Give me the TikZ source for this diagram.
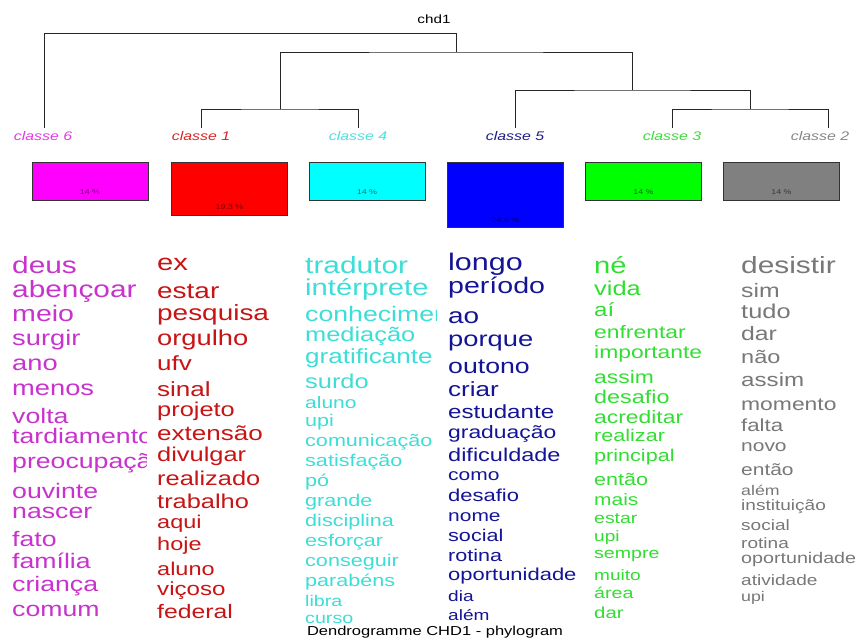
\documentclass[tikz,border=0pt]{standalone}
\usepackage{fontspec}
\setmainfont{Liberation Sans}
\usepackage{graphicx}
\newcommand{\W}[2]{{\fontsize{#1pt}{#1pt}\selectfont\scalebox{1.27}[1]{#2}}}
\definecolor{wmag}{RGB}{200,50,205}
\definecolor{wred}{RGB}{200,20,20}
\definecolor{wcya}{RGB}{60,222,215}
\definecolor{wblu}{RGB}{20,20,150}
\definecolor{wgre}{RGB}{50,222,50}
\definecolor{wgra}{RGB}{120,120,120}
\definecolor{lmag}{RGB}{225,60,225}
\definecolor{lred}{RGB}{215,40,40}
\definecolor{lcya}{RGB}{80,222,222}
\definecolor{lblu}{RGB}{30,30,140}
\definecolor{lgre}{RGB}{60,222,60}
\definecolor{lgra}{RGB}{135,135,135}
\definecolor{bmag}{RGB}{255,0,255}
\definecolor{bred}{RGB}{255,0,0}
\definecolor{bcya}{RGB}{0,255,255}
\definecolor{bblu}{RGB}{0,0,255}
\definecolor{bgre}{RGB}{0,255,0}
\definecolor{bgra}{RGB}{128,128,128}
\begin{document}
\begin{tikzpicture}[x=1pt,y=-1pt,
  tree/.style={line width=0.9pt, black!85},
  word/.style={anchor=mid west, inner sep=0pt, yshift=-6pt},
  cls/.style={inner sep=0pt, font=\itshape},
  box/.style={draw=black!80, line width=0.8pt, minimum width=116pt, inner sep=0pt},
  pct/.style={inner sep=0pt, text=black, text opacity=0.55}]
\fill[white] (0,0) rectangle (860,641);
\useasboundingbox (0,0) rectangle (860,641);
% title
\node[inner sep=0pt] (chd) at (434,19) {\W{12}{chd1}};
% dendrogram
\coordinate (root) at (456,33);
\coordinate (n2) at (456,52);
\coordinate (n14) at (280,109);
\coordinate (n532) at (632,90);
\coordinate (n32) at (750,109);
\coordinate (l6) at (44,128);
\coordinate (l1) at (201,128);
\coordinate (l4) at (358,128);
\coordinate (l5) at (515,128);
\coordinate (l3) at (672,128);
\coordinate (l2) at (828,128);
\draw[tree] (l6) |- (root) -- (n2);
\draw[tree] (n14) |- (n2) -| (n532);
\draw[tree] (l1) |- (n14) -| (l4);
\draw[tree] (l5) |- (n532) -| (n32);
\draw[tree] (l3) |- (n32) -| (l2);
% class labels
\node[cls, text=lmag] (c6) at (43,136) {\W{12.5}{classe 6}};
\node[cls, text=lred] (c1) at (201,136) {\W{12.5}{classe 1}};
\node[cls, text=lcya] (c4) at (358,136) {\W{12.5}{classe 4}};
\node[cls, text=lblu] (c5) at (515,136) {\W{12.5}{classe 5}};
\node[cls, text=lgre] (c3) at (672,136) {\W{12.5}{classe 3}};
\node[cls, text=lgra] (c2) at (820,136) {\W{12.5}{classe 2}};
% boxes
\node[box, fill=bmag, minimum height=38pt] (b6) at (90,181) {};
\node[box, fill=bred, minimum height=53pt] (b1) at (229.5,188.5) {};
\node[box, fill=bcya, minimum height=38pt] (b4) at (367,181) {};
\node[box, fill=bblu, minimum height=65pt] (b5) at (505.5,194.5) {};
\node[box, fill=bgre, minimum height=38pt] (b3) at (643.5,181) {};
\node[box, fill=bgra, minimum height=38pt] (b2) at (781.5,181) {};
\node[pct] (p6) at (90,192) {\W{7}{14 \%}};
\node[pct] (p1) at (229.5,207) {\W{7}{19.3 \%}};
\node[pct] (p4) at (367,192) {\W{7}{14 \%}};
\node[pct] (p5) at (505.5,220) {\W{7}{24.6 \%}};
\node[pct] (p3) at (643.5,192) {\W{7}{14 \%}};
\node[pct] (p2) at (781.5,192) {\W{7}{14 \%}};
% classe 6 words
\begin{scope}
\clip (0,240) rectangle (146,641);
\foreach \s/\y/\t [count=\i] in {23.5/265/deus, 23.5/289/abençoar, 22.5/313/meio, 21.5/337/surgir, 21.5/362/ano, 21.5/387/menos, 21/415/volta, 21/435/tardiamento, 21/460/preocupação, 21/490/ouvinte, 21/510/nascer, 21/538/fato, 21/560/família, 21/583/criança, 21/608/comum}
  \node[word, text=wmag] (m\i) at (12,\y) {\W{\s}{\t}};
\end{scope}
% classe 1 words
\foreach \s/\y/\t [count=\i] in {23/262/ex, 22/290/estar, 22/312/pesquisa, 21.5/337/orgulho, 20.5/362/ufv, 20.5/388/sinal, 20/408/projeto, 20.5/432/extensão, 20/453/divulgar, 20/477/realizado, 20/500/trabalho, 18.5/520/aqui, 18.5/542/hoje, 18.5/567/aluno, 19/587/viçoso, 19.5/610/federal}
  \node[word, text=wred] (r\i) at (157,\y) {\W{\s}{\t}};
% classe 4 words
\begin{scope}
\clip (290,240) rectangle (436,624);
\foreach \s/\y/\t [count=\i] in {23.5/265/tradutor, 23/287/intérprete, 21/313/conhecimento, 20/333/mediação, 20.5/355/gratificante, 20/380/surdo, 16.5/400/aluno, 17/418/upi, 17/438/comunicação, 17/458/satisfação, 17/478/pó, 17/498/grande, 17/518/disciplina, 17/538/esforçar, 17/558/conseguir, 17/578/parabéns, 15.5/598/libra, 15.5/615/curso}
  \node[word, text=wcya] (t\i) at (305,\y) {\W{\s}{\t}};
\end{scope}
% classe 5 words
\foreach \s/\y/\t [count=\i] in {24/262/longo, 22.5/285/período, 22/315/ao, 21.5/338/porque, 21/365/outono, 20.5/388/criar, 19/410/estudante, 18/430/graduação, 18.5/453/dificuldade, 16.5/472/como, 17.3/493/desafio, 16.5/513/nome, 17/533/social, 17/553/rotina, 17.3/572/oportunidade, 15/593/dia, 15/612/além}
  \node[word, text=wblu] (u\i) at (448,\y) {\W{\s}{\t}};
% classe 3 words
\foreach \s/\y/\t [count=\i] in {23/265/né, 20/287/vida, 19/308/aí, 18/330/enfrentar, 18/350/importante, 18/375/assim, 18.4/395/desafio, 18/415/acreditar, 17/433/realizar, 17/453/principal, 17/477/então, 16.5/497/mais, 15.3/515/estar, 15/533/upi, 15.4/550/sempre, 15/572/muito, 15.5/590/área, 16/610/dar}
  \node[word, text=wgre] (g\i) at (594,\y) {\W{\s}{\t}};
% classe 2 words
\foreach \s/\y/\t [count=\i] in {23.5/265/desistir, 19.5/289/sim, 20/310/tudo, 19.5/332/dar, 18.5/355/não, 19/378/assim, 18/402/momento, 17.5/423/falta, 16.5/443/novo, 16.5/467/então, 14/487/além, 15/502/instituição, 15/522/social, 15/540/rotina, 15.5/555/oportunidade, 15/577/atividade, 14/593/upi}
  \node[word, text=wgra] (y\i) at (741,\y) {\W{\s}{\t}};
% bottom title
\node[inner sep=0pt, anchor=mid] (ttl) at (435,633) {\W{13}{Dendrogramme CHD1 - phylogram}};
\end{tikzpicture}
\end{document}
